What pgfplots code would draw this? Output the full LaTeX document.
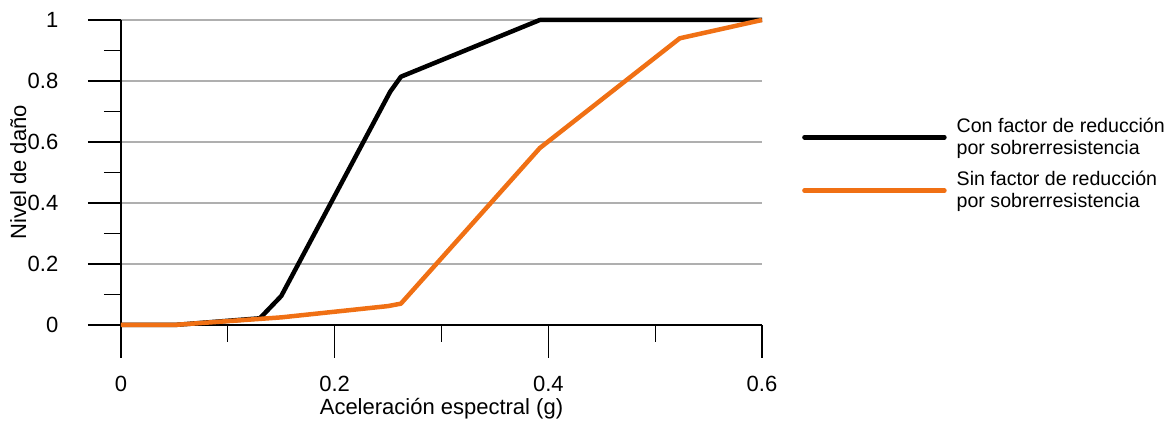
\documentclass[border=0pt]{standalone}
\usepackage{pgfplots}
\pgfplotsset{compat=1.18}
\usepackage{fontspec}
\setmainfont{Liberation Sans}
\definecolor{orng}{RGB}{240,112,20}
\definecolor{gridg}{RGB}{175,175,175}
\begin{document}
\fontsize{19.6}{22}\selectfont
\begin{tikzpicture}
\begin{axis}[
  scale only axis,
  width=641pt, height=305pt,
  xmin=0, xmax=0.6, ymin=0, ymax=1,
  axis x line=bottom, axis y line=left,
  axis line style={-, line width=1.3pt, black},
  xtick={0,0.2,0.4,0.6},
  minor xtick={0.1,0.3,0.5},
  ytick={0,0.2,0.4,0.6,0.8,1},
  yticklabels={0,0.2,0.4,0.6,0.8,1},
  xticklabels={0,0.2,0.4,0.6},
  minor ytick={0.1,0.3,0.5,0.7,0.9},
  tick align=outside,
  major tick length=33pt,
  minor tick length=17pt,
  tick style={line width=1.3pt, black},
  ymajorgrids,
  major grid style={line width=1.3pt, gridg},
  /pgf/number format/assume math mode=true,
  tick label style={font=\fontsize{22}{25}\selectfont},
  xticklabel style={yshift=-11pt},
  yticklabel style={xshift=-23pt},
  xlabel={Aceleración espectral (g)},
  ylabel={Nivel de daño},
  label style={font=\fontsize{22}{25}\selectfont},
  xlabel style={yshift=6pt},
  ylabel style={yshift=-12pt},
  clip=false,
  legend cell align=left,
  legend style={at={(1.0624,0.528)}, anchor=west, draw=none, fill=none,
    inner xsep=0pt, font=\fontsize{19.6}{22}\selectfont,
    cells={align=left}, row sep=10pt},
  legend image code/.code={\draw[#1, line cap=round] (0pt,0pt) -- (140pt,0pt); \path (148pt,0pt);},
]
\addplot[black, line width=4.5pt, line join=round] coordinates {
(0,0) (0.05,0) (0.13,0.022) (0.15,0.095) (0.252,0.765) (0.262,0.814) (0.392,1.0) (0.6,1.0)};
\addlegendentry{Con factor de reducción\\por sobrerresistencia}
\addplot[orng, line width=4.5pt, line join=round] coordinates {
(0,0) (0.049,0) (0.15,0.025) (0.25,0.062) (0.262,0.070) (0.392,0.580) (0.523,0.940) (0.6,1.0)};
\addlegendentry{Sin factor de reducción\\por sobrerresistencia}
\end{axis}
\pgfresetboundingbox
\path[use as bounding box] ([xshift=-121pt,yshift=20pt]current axis.north west) rectangle ([xshift=413pt,yshift=-99pt]current axis.south east);
\end{tikzpicture}
\end{document}
